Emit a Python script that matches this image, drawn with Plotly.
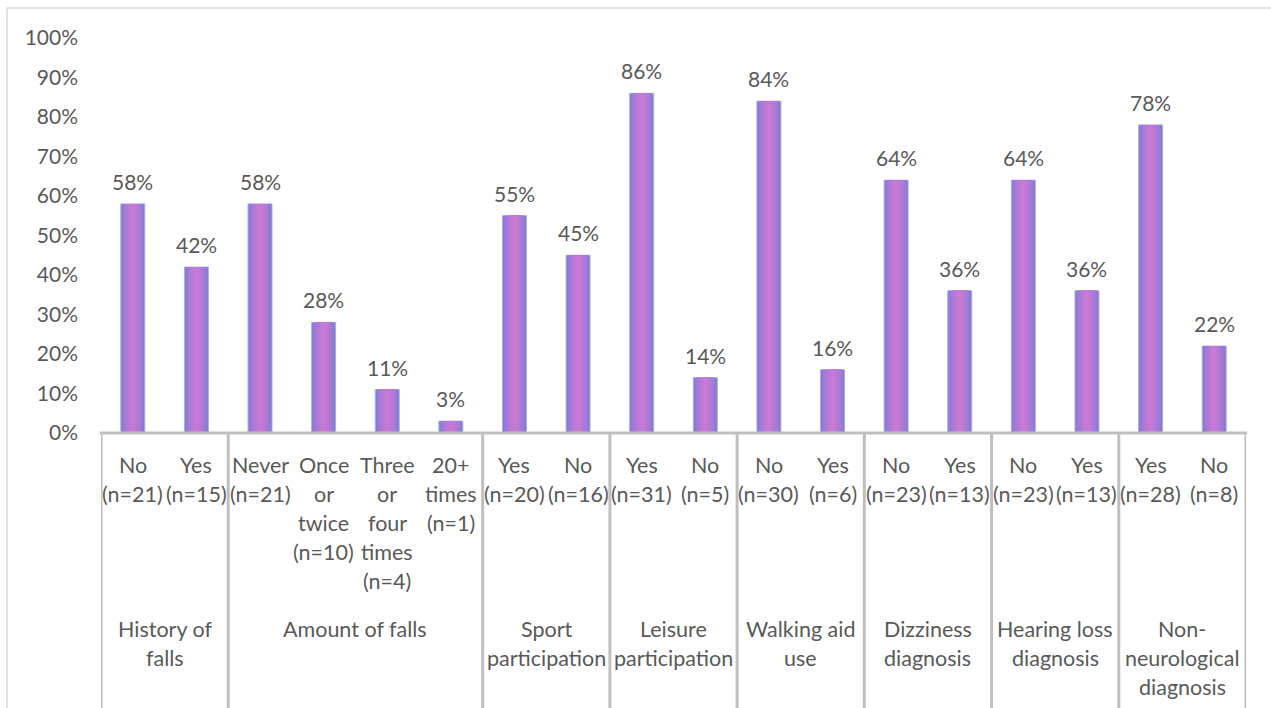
import plotly.graph_objects as go

# Share of participants in each response category
values = [0.58, 0.42, 0.58, 0.28, 0.11, 0.03, 0.55, 0.45, 0.86, 0.14,
          0.84, 0.16, 0.64, 0.36, 0.64, 0.36, 0.78, 0.22]

sub_labels = [
    "No<br>(n=21)", "Yes<br>(n=15)",
    "Never<br>(n=21)", "Once<br>or<br>twice<br>(n=10)",
    "Three<br>or<br>four<br>times<br>(n=4)", "20+<br>times<br>(n=1)",
    "Yes<br>(n=20)", "No<br>(n=16)",
    "Yes<br>(n=31)", "No<br>(n=5)",
    "No<br>(n=30)", "Yes<br>(n=6)",
    "No<br>(n=23)", "Yes<br>(n=13)",
    "No<br>(n=23)", "Yes<br>(n=13)",
    "Yes<br>(n=28)", "No<br>(n=8)",
]

group_labels = [
    "History of<br>falls", "Amount of falls", "Sport<br>participation",
    "Leisure<br>participation", "Walking aid<br>use", "Dizziness<br>diagnosis",
    "Hearing loss<br>diagnosis", "Non-<br>neurological<br>diagnosis",
]
group_sizes = [2, 4, 2, 2, 2, 2, 2, 2]

y_ticks = [0, 0.1, 0.2, 0.3, 0.4, 0.5, 0.6, 0.7, 0.8, 0.9, 1.0]

FONT = "Lato"
TEXT = "#595959"
GRID = "#bfbfbf"
LABEL_SIZE = 21.5
NUM_SIZE = 21

x = list(range(len(values)))

W, H = 1271, 708
ML, MR, MT, MB = 101, 25, 38, 275
plot_h = H - MT - MB

fig = go.Figure()

# Bars drawn as nested layers to give a horizontal edge-to-centre gradient
edge = (124, 122, 214)
centre = (201, 122, 214)
n_layers = 9
full_w = 0.377
for k in range(n_layers):
    t = k / (n_layers - 1)
    s = t ** 0.6
    col = tuple(round(edge[i] + (centre[i] - edge[i]) * s) for i in range(3))
    w = full_w * (1 - k / n_layers)
    fig.add_trace(go.Bar(
        x=x, y=values, width=w,
        marker=dict(color="rgb(%d,%d,%d)" % col,
                    line=dict(width=1 if k == 0 else 0, color="#a7aeea")),
        hoverinfo="skip" if k else "y",
        showlegend=False,
    ))

annotations = []

# Value labels above bars
for xi, v in zip(x, values):
    annotations.append(dict(
        x=xi, y=v, xref="x", yref="y", text="%d%%" % round(v * 100),
        showarrow=False, yanchor="bottom", yshift=8,
        font=dict(family=FONT, size=NUM_SIZE, color=TEXT)))

LINE = 29


def add_lines(xc, text, first_px):
    for i, line in enumerate(text.split("<br>")):
        annotations.append(dict(
            x=xc, y=0, xref="x", yref="paper", text=line, showarrow=False,
            yanchor="middle", yshift=-(first_px + LINE * i),
            font=dict(family=FONT, size=LABEL_SIZE, color=TEXT)))


for xi, lab in zip(x, sub_labels):
    add_lines(xi, lab, 32)

shapes = []
start = 0
bounds = [-0.5]
for g, n in zip(group_labels, group_sizes):
    add_lines(start + (n - 1) / 2, g, 196)
    start += n
    bounds.append(start - 0.5)

# Group dividers below the category axis
for b in bounds:
    shapes.append(dict(type="line", xref="x", yref="paper", x0=b, x1=b,
                       y0=0, y1=-1.0, line=dict(color=GRID, width=3)))

# Category axis line
shapes.append(dict(type="line", xref="paper", yref="paper", x0=-0.001, x1=1.001,
                   y0=0, y1=0, line=dict(color=GRID, width=3)))

# Chart-area border
plot_w = W - ML - MR
shapes.append(dict(type="rect", xref="paper", yref="paper",
                   x0=(7 - ML) / plot_w, x1=(W + 20 - ML) / plot_w,
                   y0=-1.0, y1=(H - MB - 8) / plot_h,
                   line=dict(color="#d9d9d9", width=1.5), layer="below"))

fig.update_layout(
    width=W, height=H,
    margin=dict(l=ML, r=MR, t=MT, b=MB),
    barmode="overlay",
    plot_bgcolor="white", paper_bgcolor="white",
    font=dict(family=FONT, size=NUM_SIZE, color=TEXT),
    xaxis=dict(range=[-0.5, 17.5], showticklabels=False, showgrid=False,
               zeroline=False, showline=False, fixedrange=True),
    yaxis=dict(range=[0, 1], tickvals=y_ticks, tickformat=".0%",
               showgrid=False, zeroline=False, showline=False,
               ticklabelstandoff=22, fixedrange=True,
               tickfont=dict(family=FONT, size=NUM_SIZE, color=TEXT)),
    annotations=annotations,
    shapes=shapes,
)

fig.write_html("out.html")
